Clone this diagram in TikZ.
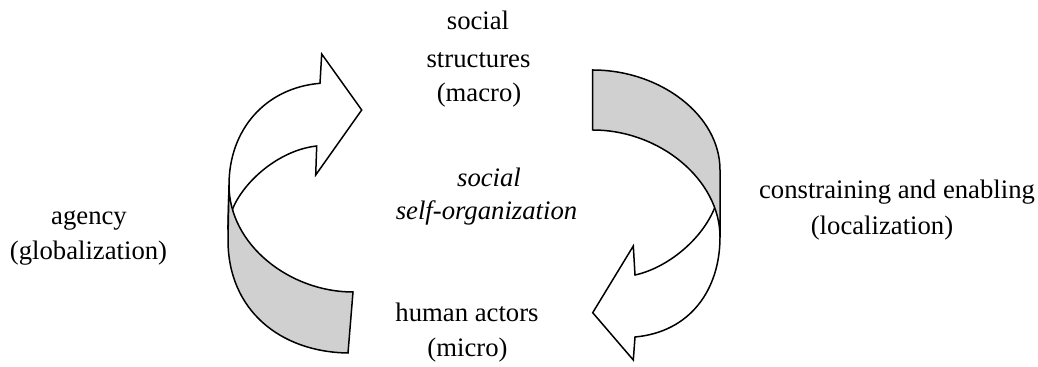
\documentclass[tikz,border=0pt]{standalone}
\usepackage{fontspec}
\setmainfont{Liberation Serif}
\definecolor{ribbon}{RGB}{208,208,208}
\begin{document}
\begin{tikzpicture}[x=0.5pt,y=-0.5pt,
  lbl/.style={anchor=base,inner sep=0pt,font=\fontsize{13.35}{18}\selectfont},
  ilbl/.style={lbl,font=\fontsize{13.35}{18}\selectfont\itshape},
  whitepart/.style={draw=black,fill=white,line width=0.75pt,line join=miter},
  graypart/.style={draw=black,fill=ribbon,line width=0.75pt,line join=miter}]
\useasboundingbox (0,0) rectangle (1038,367);

% left arrow (agency)
\coordinate (Lo1) at (229,185);
\coordinate (Lo2) at (228,240);
\coordinate (Lbot) at (348,353);
\coordinate (Lbr) at (353,292);
\coordinate (Lhb) at (320,83.3);
\coordinate (Lht) at (321.7,54);
\coordinate (Ltip) at (361.7,110);
\coordinate (Lhl) at (315.7,175);
\coordinate (Lhi) at (316.7,146);
\coordinate (Lx) at (233,208);
\path[whitepart] (Lx) -- (228,225) -- (Lo1)
  .. controls (229,130) and (265,88) .. (Lhb) -- (Lht) -- (Ltip) -- (Lhl) -- (Lhi)
  .. controls (280,150) and (245,180) .. (Lx) -- cycle;
\path[graypart] (Lo1) -- (Lo2) .. controls (228,310) and (280,352) .. (Lbot) -- (Lbr)
  .. controls (290,292) and (229,245) .. (Lo1) -- cycle;

% right arrow (constraining)
\coordinate (Rtl) at (592.7,70);
\coordinate (Rbl) at (592.7,130);
\coordinate (Ro1) at (720,170);
\coordinate (Ro2) at (720,237);
\coordinate (Rhb) at (635,337);
\coordinate (Rhb2) at (633.3,360);
\coordinate (Rtip) at (592.7,312.7);
\coordinate (Rht) at (633.3,246);
\coordinate (Rhi) at (635,275);
\coordinate (Rx) at (715,207);
\path[whitepart] (Rx) -- (720,190) -- (Ro2)
  .. controls (720,290) and (690,332) .. (Rhb) -- (Rhb2) -- (Rtip) -- (Rht) -- (Rhi)
  .. controls (667,268) and (702,240) .. (Rx) -- cycle;
\path[graypart] (Rtl) .. controls (660,70) and (720,115) .. (Ro1) -- (Ro2)
  .. controls (720,180) and (660,130) .. (Rbl) -- cycle;

% labels
\node[lbl] (m1) at (478,30) {social};
\node[lbl] (m2) at (478.5,68) {structures};
\node[lbl] (m3) at (479,102) {(macro)};
\node[ilbl] (s1) at (489,187) {social};
\node[ilbl] (s2) at (486.5,220) {self-organization};
\node[lbl] (a1) at (89,225) {agency};
\node[lbl] (a2) at (88.5,260) {(globalization)};
\node[lbl] (c1) at (897,199) {constraining and enabling};
\node[lbl] (c2) at (882,235) {(localization)};
\node[lbl] (h1) at (467,322) {human actors};
\node[lbl] (h2) at (467.5,357) {(micro)};
\end{tikzpicture}
\end{document}
